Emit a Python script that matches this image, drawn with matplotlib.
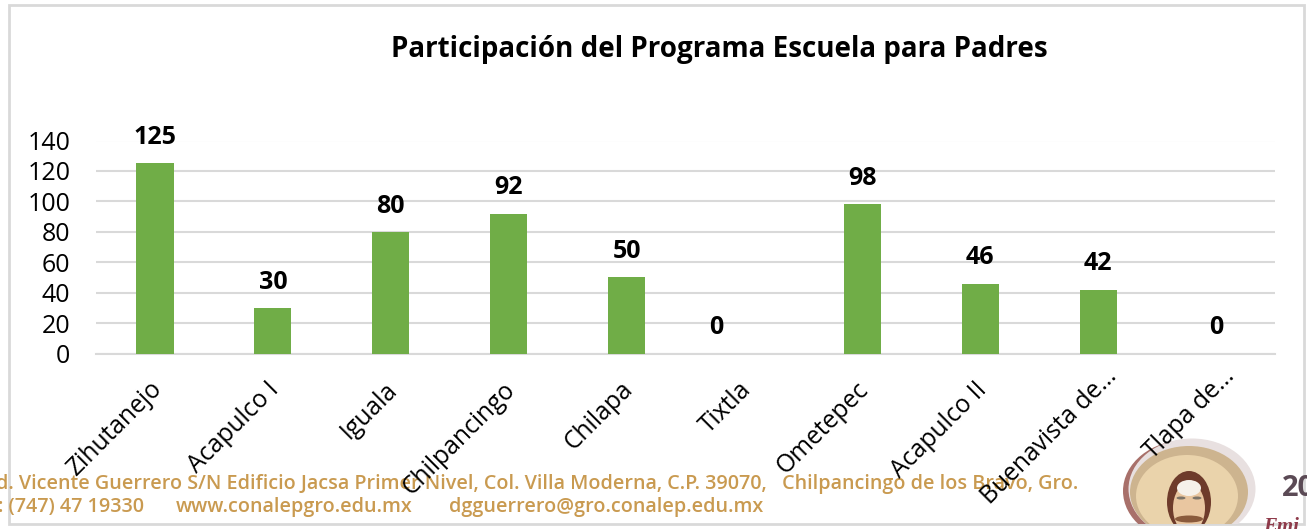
import numpy as np
import matplotlib
matplotlib.use('Agg')
import matplotlib.pyplot as plt
from matplotlib.patches import Ellipse, Rectangle
from matplotlib.transforms import ScaledTranslation

W, H = 1307, 529

planteles = ['Zihutanejo', 'Acapulco I', 'Iguala', 'Chilpancingo', 'Chilapa',
             'Tixtla', 'Ometepec', 'Acapulco II', 'Buenavista de...', 'Tlapa de...']
participantes = [125, 30, 80, 92, 50, 0, 98, 46, 42, 0]
y_ticks = [0, 20, 40, 60, 80, 100, 120, 140]

titulo = 'Participación del Programa Escuela para Padres'
pie_1 = 'd. Vicente Guerrero S/N Edificio Jacsa Primer Nivel, Col. Villa Moderna, C.P. 39070,   Chilpancingo de los Bravo, Gro.'
pie_2a = ': (747) 47 19330'
pie_2b = 'www.conalepgro.edu.mx'
pie_2c = 'dgguerrero@gro.conalep.edu.mx'

GRIS = '#d9d9d9'
VERDE = '#70ad47'
ORO = '#c99a50'

plt.rcParams['font.family'] = ['Open Sans', 'DejaVu Sans']

fig = plt.figure(figsize=(W / 100, H / 100), dpi=100, facecolor='white')

# capa de fondo en pixeles para marco, pie y logo
bg = fig.add_axes([0, 0, 1, 1])
bg.set_xlim(0, W)
bg.set_ylim(H, 0)
bg.axis('off')
marco = Rectangle((8.5, 4.5), 1295, 519, fc='white', ec=GRIS, lw=2)
bg.add_patch(marco)
for txt, px, py in [(pie_1, -4, 484), (pie_2a, -2, 507), (pie_2b, 176, 507), (pie_2c, 449, 507)]:
    bg.text(px, py, txt, color=ORO, fontsize=14.25, fontweight='semibold', va='center', ha='left')

# logo aproximado, recortado por el marco
logo = [
    Ellipse((1187, 491), 128, 102, fc='#a8706a', ec='none'),
    Ellipse((1192, 489), 127, 101, fc='#e8e0e0', ec='none'),
    Ellipse((1189, 492), 118, 92, fc='#cdb48f', ec='none'),
    Ellipse((1187, 496), 102, 82, fc='#ead3ab', ec='none'),
    Ellipse((1189, 502), 44, 62, fc='#6e3b2b', ec='none'),
    Ellipse((1189, 508), 32, 50, fc='#e9c6a0', ec='none'),
    Ellipse((1189, 488), 24, 16, fc='#f6f1ea', ec='none'),
    Ellipse((1181, 498), 9, 3, fc='#7d7468', ec='none'),
    Ellipse((1197, 498), 9, 3, fc='#7d7468', ec='none'),
    Ellipse((1189, 519), 28, 7, fc='#8a5a3c', ec='none'),
]
for p in logo:
    bg.add_patch(p)
    p.set_clip_path(marco)
t20 = bg.text(1282, 488, '20', color='#5b4a55', fontsize=21, fontweight='bold', va='center', ha='left')
t20.set_clip_path(marco)
emi = bg.text(1263, 527, 'Emi', color='#8e3a4a', fontsize=15, fontweight='bold', family='Liberation Serif',
              style='italic', va='center', ha='left')
emi.set_clip_path(marco)

# grafica de barras
x0, x1 = 96, 1275
y_top, y_bot = 140.5, 353.5
ax = fig.add_axes([x0 / W, 1 - y_bot / H, (x1 - x0) / W, (y_bot - y_top) / H])
ax.patch.set_alpha(0)
x = np.arange(len(planteles))
ax.bar(x, participantes, width=0.315, color=VERDE, zorder=3)
ax.set_xlim(-0.5, len(planteles) - 0.5)
ax.set_ylim(0, 140)
ax.set_yticks(y_ticks)
ax.set_xticks(x)
ax.set_xticklabels(planteles, rotation=45, ha='right', rotation_mode='anchor', fontsize=17.7, color='black')
ax.tick_params(axis='y', length=0, labelsize=18, pad=18.5)
ax.tick_params(axis='x', length=0, pad=9)
ax.grid(axis='y', color=GRIS, lw=1.5, zorder=0)
ax.set_axisbelow(True)
for s in ['top', 'left', 'right']:
    ax.spines[s].set_visible(False)
ax.spines['bottom'].set_color(GRIS)
ax.spines['bottom'].set_linewidth(1.5)

# las etiquetas truncadas quedan mas arriba y a la derecha en el original
for lab in ax.get_xticklabels():
    if lab.get_text().endswith('...'):
        dx, dy = 6, 2
    else:
        dx, dy = -6, -11
    lab.set_transform(lab.get_transform() + ScaledTranslation(dx / 100, dy / 100, fig.dpi_scale_trans))

for xi, v, nombre in zip(x, participantes, planteles):
    # el 0 de Tixtla esta corrido a la izquierda de su categoria
    dx = -20 if nombre == 'Tixtla' else 0
    ax.annotate(str(v), (xi, v), xytext=(dx, 9.5), textcoords='offset points', ha='center', va='bottom',
                fontsize=18, fontweight='bold', color='black', annotation_clip=False, zorder=5)

fig.text(719 / W, 1 - 49 / H, titulo, fontsize=20, fontweight='bold', ha='center', va='center', color='black')

fig.savefig('out.png', dpi=100)
